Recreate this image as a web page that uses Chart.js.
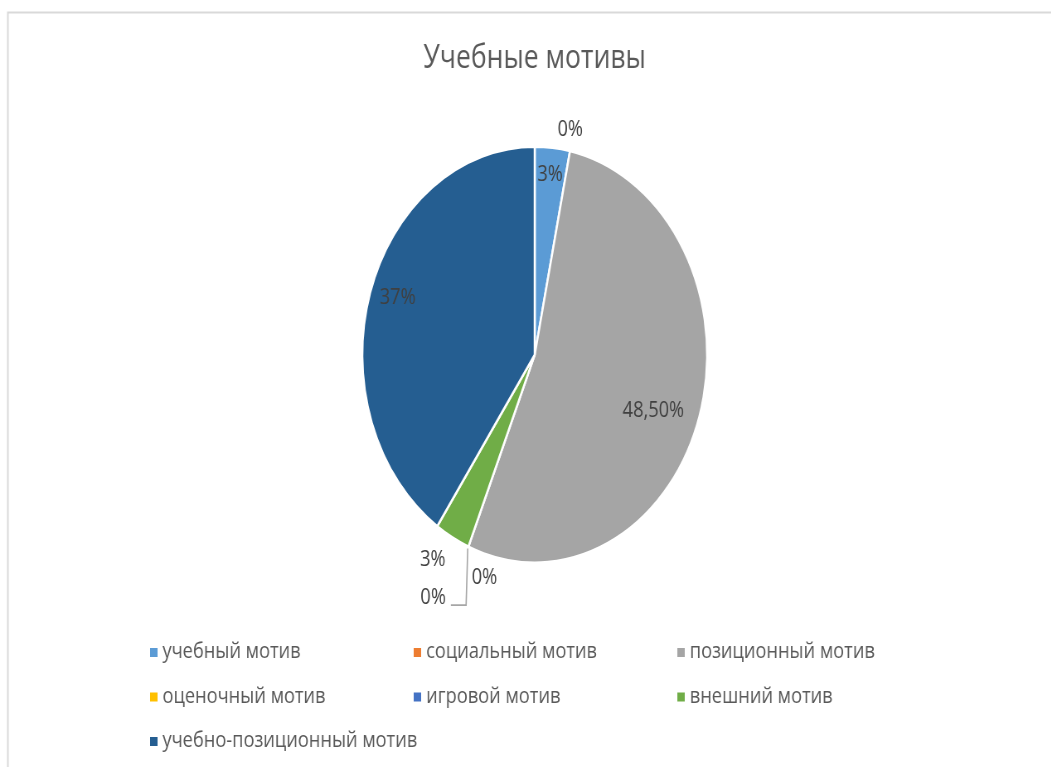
<!DOCTYPE html>
<html>
<head>
<meta charset="utf-8">
<script src="https://cdn.jsdelivr.net/npm/chart.js@4.4.1/dist/chart.umd.min.js"></script>
<style>
  html, body { margin: 0; padding: 0; background: #ffffff; overflow: hidden; width: 1051px; height: 767px; }
  #wrap { width: 1268px; height: 767px; transform: scaleX(0.829); transform-origin: 0 0; }
  canvas { display: block; }
</style>
</head>
<body>
<div id="wrap"><canvas id="c" width="1268" height="767"></canvas></div>
<script>
const categories = ['учебный мотив', 'социальный мотив', 'позиционный мотив', 'оценочный мотив', 'игровой мотив', 'внешний мотив', 'учебно-позиционный мотив'];
const values = [3, 0, 48.5, 0, 0, 3, 37];
const colors = ['#5B9BD5', '#ED7D31', '#A5A5A5', '#FFC000', '#4472C4', '#70AD47', '#255E91'];
const titleText = 'Учебные мотивы';

// label placement style: radial factor, angle shift (deg), leader line
const labelStyle = [
  { f: 0.87, da: 0 },
  { f: 1.10, da: -1 },
  { f: 0.74, da: 4.3 },
  { f: 1.11, da: -7.4 },
  { f: 1.31, da: 4.1, leader: true },
  { f: 1.15, da: 2.4 },
  { f: 0.84, da: 1.7 }
];

function fmt(v) {
  return Number.isInteger(v) ? v + '%' : v.toFixed(2).replace('.', ',') + '%';
}

const framePlugin = {
  id: 'frame',
  beforeDraw(chart) {
    const ctx = chart.ctx;
    ctx.save();
    ctx.fillStyle = '#ffffff';
    ctx.fillRect(0, 0, chart.width, chart.height);
    ctx.strokeStyle = '#d9d9d9';
    ctx.lineWidth = 2;
    ctx.strokeRect(9.5, 12.5, 3000, 3000);
    ctx.restore();
  }
};

const labelPlugin = {
  id: 'pieLabels',
  afterDatasetsDraw(chart) {
    const ctx = chart.ctx;
    const meta = chart.getDatasetMeta(0);
    ctx.save();
    ctx.font = '22px "Open Sans"';
    ctx.fillStyle = '#404040';
    ctx.textAlign = 'center';
    ctx.textBaseline = 'middle';
    meta.data.forEach((arc, i) => {
      const p = arc.getProps(['x', 'y', 'startAngle', 'endAngle', 'outerRadius'], true);
      const st = labelStyle[i];
      const mid = (p.startAngle + p.endAngle) / 2;
      const a = mid + st.da * Math.PI / 180;
      const lx = p.x + Math.cos(a) * p.outerRadius * st.f;
      const ly = p.y + Math.sin(a) * p.outerRadius * st.f;
      const text = fmt(values[i]);
      if (st.leader) {
        const sx = p.x + Math.cos(mid) * (p.outerRadius + 2);
        const sy = p.y + Math.sin(mid) * (p.outerRadius + 2);
        const w = ctx.measureText(text).width;
        ctx.save();
        ctx.strokeStyle = '#a6a6a6';
        ctx.lineWidth = 1.6;
        ctx.beginPath();
        ctx.moveTo(sx, sy);
        ctx.lineTo(sx - 2, ly + 7);
        ctx.lineTo(lx + w / 2 + 6, ly + 7);
        ctx.stroke();
        ctx.restore();
      }
      ctx.fillText(text, lx, ly);
    });
    ctx.restore();
  }
};

const legendPlugin = {
  id: 'gridLegend',
  afterDraw(chart) {
    const ctx = chart.ctx;
    const x0 = 181, colW = 318, y0 = 652, rowH = 44.5;
    ctx.save();
    ctx.font = '22px "Open Sans"';
    ctx.textBaseline = 'middle';
    ctx.textAlign = 'left';
    categories.forEach((name, i) => {
      const col = i % 3, row = Math.floor(i / 3);
      const x = x0 + col * colW;
      const y = y0 + row * rowH;
      ctx.fillStyle = colors[i];
      ctx.fillRect(x, y - 4, 9, 9);
      ctx.fillStyle = '#595959';
      ctx.fillText(name, x + 15, y);
    });
    ctx.restore();
  }
};

new Chart(document.getElementById('c'), {
  type: 'pie',
  data: {
    labels: categories,
    datasets: [{
      data: values,
      backgroundColor: colors,
      borderColor: '#ffffff',
      borderWidth: 2.5,
      radius: 208
    }]
  },
  options: {
    responsive: false,
    animation: false,
    layout: { padding: { left: 22, right: 0, top: 0, bottom: 146 } },
    plugins: {
      legend: { display: false },
      tooltip: { enabled: false },
      title: {
        display: true,
        text: titleText,
        color: '#595959',
        font: { family: 'Open Sans', size: 32, weight: 'normal' },
        padding: { top: 40, bottom: 10 }
      }
    }
  },
  plugins: [framePlugin, labelPlugin, legendPlugin]
});
</script>
</body>
</html>
